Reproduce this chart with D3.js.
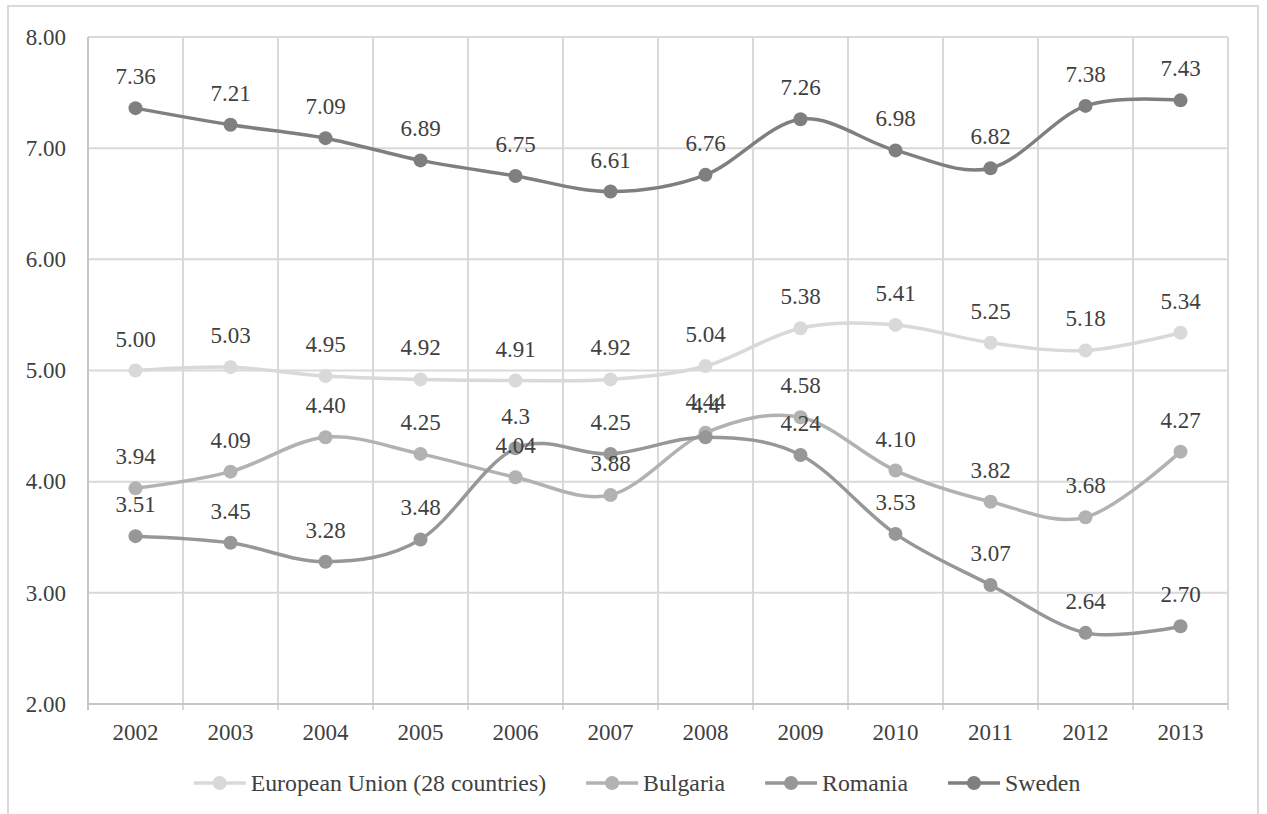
<!DOCTYPE html>
<html>
<head>
<meta charset="utf-8">
<script src="https://cdn.jsdelivr.net/npm/d3@7"></script>
<style>
  html, body { margin: 0; padding: 0; background: #fff; }
  svg { display: block; font-family: "Liberation Serif", "Times New Roman", serif; }
</style>
</head>
<body>
<svg id="chart" width="1267" height="814"></svg>
<script>
const years = ["2002","2003","2004","2005","2006","2007","2008","2009","2010","2011","2012","2013"];
const yTicks = [2, 3, 4, 5, 6, 7, 8];
const seriesNames = ["European Union (28 countries)", "Bulgaria", "Romania", "Sweden"];
const euValues = [5.00, 5.03, 4.95, 4.92, 4.91, 4.92, 5.04, 5.38, 5.41, 5.25, 5.18, 5.34];
const bulgariaValues = [3.94, 4.09, 4.40, 4.25, 4.04, 3.88, 4.44, 4.58, 4.10, 3.82, 3.68, 4.27];
const romaniaValues = [3.51, 3.45, 3.28, 3.48, 4.3, 4.25, 4.4, 4.24, 3.53, 3.07, 2.64, 2.70];
const swedenValues = [7.36, 7.21, 7.09, 6.89, 6.75, 6.61, 6.76, 7.26, 6.98, 6.82, 7.38, 7.43];
const euLabels = euValues.map(v => v.toFixed(2));
const bulgariaLabels = bulgariaValues.map(v => v.toFixed(2));
const romaniaLabels = ["3.51","3.45","3.28","3.48","4.3","4.25","4.4","4.24","3.53","3.07","2.64","2.70"];
const swedenLabels = swedenValues.map(v => v.toFixed(2));
const colors = ["#d9d9d9", "#b2b2b2", "#979797", "#7f7f7f"];

const series = [
  { name: seriesNames[0], values: euValues, labels: euLabels, color: colors[0] },
  { name: seriesNames[1], values: bulgariaValues, labels: bulgariaLabels, color: colors[1] },
  { name: seriesNames[2], values: romaniaValues, labels: romaniaLabels, color: colors[2] },
  { name: seriesNames[3], values: swedenValues, labels: swedenLabels, color: colors[3] }
];

const svg = d3.select("#chart");
const FS = 23;
const LFS = 23.8;
const plot = { left: 88, right: 1228, top: 37, bottom: 704 };

// outer border
svg.append("rect").attr("x", 8).attr("y", 6).attr("width", 1250).attr("height", 840)
  .attr("fill", "none").attr("stroke", "#d9d9d9").attr("stroke-width", 2);

const x = d3.scaleBand().domain(years).range([plot.left, plot.right]);
const y = d3.scaleLinear().domain([2, 8]).range([plot.bottom, plot.top]);
const cx = d => x(d) + x.bandwidth() / 2;

// horizontal gridlines
svg.append("g").selectAll("line").data(yTicks.filter(t => t > 2)).join("line")
  .attr("x1", plot.left).attr("x2", plot.right)
  .attr("y1", d => y(d)).attr("y2", d => y(d))
  .attr("stroke", "#d9d9d9").attr("stroke-width", 2);

// vertical gridlines at category boundaries
const bounds = years.map(d => x(d)).concat([plot.right]);
svg.append("g").selectAll("line").data(bounds).join("line")
  .attr("x1", d => d).attr("x2", d => d)
  .attr("y1", plot.top).attr("y2", plot.bottom + 6)
  .attr("stroke", d => d === plot.left ? "#c6c6c6" : "#d9d9d9").attr("stroke-width", 2);

// x axis line
svg.append("line").attr("x1", plot.left).attr("x2", plot.right)
  .attr("y1", plot.bottom).attr("y2", plot.bottom)
  .attr("stroke", "#c6c6c6").attr("stroke-width", 2);

// y tick labels
svg.append("g").selectAll("text").data(yTicks).join("text")
  .attr("x", 66).attr("y", d => y(d)).attr("dy", "0.34em")
  .attr("text-anchor", "end").attr("font-size", FS).attr("fill", "#404040")
  .text(d => d.toFixed(2));

// x tick labels
svg.append("g").selectAll("text").data(years).join("text")
  .attr("x", d => cx(d)).attr("y", 740)
  .attr("text-anchor", "middle").attr("font-size", FS).attr("fill", "#404040")
  .text(d => d);

// lines and markers
const line = d3.line().x((d, i) => cx(years[i])).y(d => y(d)).curve(d3.curveCardinal.tension(0));
series.forEach(s => {
  const g = svg.append("g");
  g.append("path").attr("d", line(s.values)).attr("fill", "none")
    .attr("stroke", s.color).attr("stroke-width", 3.5).attr("stroke-linecap", "round");
  g.selectAll("circle").data(s.values).join("circle")
    .attr("cx", (d, i) => cx(years[i])).attr("cy", d => y(d)).attr("r", 7)
    .attr("fill", s.color);
});

// data labels
series.forEach(s => {
  svg.append("g").selectAll("text").data(s.values).join("text")
    .attr("x", (d, i) => cx(years[i])).attr("y", d => y(d) - 24)
    .attr("text-anchor", "middle").attr("font-size", FS).attr("fill", "#404040")
    .text((d, i) => s.labels[i]);
});

// legend
const legend = svg.append("g");
const legY = 783;
let cursor = 0;
series.forEach(s => {
  const g = legend.append("g");
  g.append("line").attr("x1", 0).attr("x2", 52).attr("y1", legY).attr("y2", legY)
    .attr("stroke", s.color).attr("stroke-width", 3.5);
  g.append("circle").attr("cx", 26).attr("cy", legY).attr("r", 7).attr("fill", s.color);
  const t = g.append("text").attr("x", 57).attr("y", legY).attr("dy", "0.34em")
    .attr("font-size", LFS).attr("fill", "#404040").text(s.name);
  const w = 57 + t.node().getComputedTextLength();
  g.attr("transform", `translate(${cursor},0)`);
  cursor += w + 40;
});
const totalW = cursor - 40;
legend.attr("transform", `translate(${637 - totalW / 2},0)`);
</script>
</body>
</html>
